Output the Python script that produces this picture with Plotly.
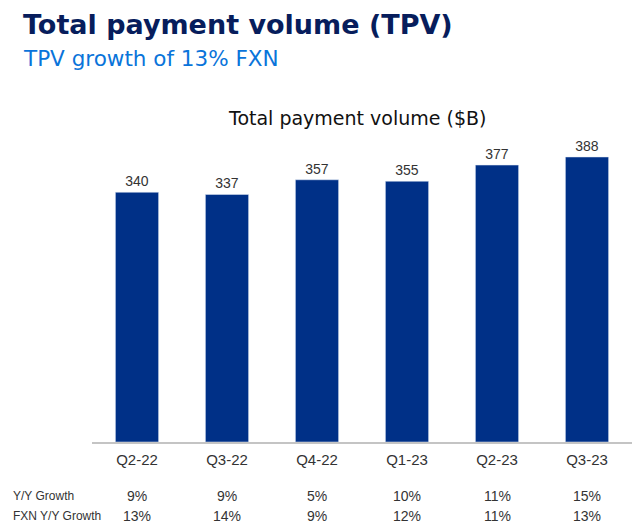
import plotly.graph_objects as go

quarters = ["Q2-22", "Q3-22", "Q4-22", "Q1-23", "Q2-23", "Q3-23"]
tpv = [340, 337, 357, 355, 377, 388]
yy_growth = ["9%", "9%", "5%", "10%", "11%", "15%"]
fxn_growth = ["13%", "14%", "9%", "12%", "11%", "13%"]

navy = "#003087"
arial = "Liberation Sans, Arial, sans-serif"
dejavu = "DejaVu Sans, sans-serif"

# page has an 8px body margin, so the figure is drawn 8px smaller
W, H = 632, 523
L, R, T, B = 84, 8, 100, 89
plot_w = W - L - R
plot_h = H - T - B


def px_x(x):
    return (x - L) / plot_w


def px_y(y):
    return (H - B - y) / plot_h


fig = go.Figure()
fig.add_trace(go.Bar(x=quarters, y=tpv, marker_color=navy, width=0.48,
                     text=[str(v) for v in tpv], textposition="outside",
                     textfont=dict(size=14, color="#333333", family=arial),
                     cliponaxis=False))

# growth table under the axis
for q, a, b in zip(quarters, yy_growth, fxn_growth):
    fig.add_annotation(x=q, y=px_y(488), xref="x", yref="paper", text=a, showarrow=False,
                       yanchor="middle", font=dict(size=14, color="#333333", family=arial))
    fig.add_annotation(x=q, y=px_y(508), xref="x", yref="paper", text=b, showarrow=False,
                       yanchor="middle", font=dict(size=14, color="#333333", family=arial))
fig.add_annotation(x=px_x(3), y=px_y(488), xref="paper", yref="paper", text="Y/Y Growth",
                   xanchor="left", yanchor="middle", showarrow=False,
                   font=dict(size=12, color="#333333", family=arial))
fig.add_annotation(x=px_x(3), y=px_y(508), xref="paper", yref="paper", text="FXN Y/Y Growth",
                   xanchor="left", yanchor="middle", showarrow=False,
                   font=dict(size=12, color="#333333", family=arial))

# titles
fig.add_annotation(x=px_x(13), y=px_y(16), xref="paper", yref="paper",
                   text="<b>Total payment volume (TPV)</b>", xanchor="left", yanchor="middle",
                   showarrow=False, font=dict(size=27, color="#071d5c", family=dejavu))
fig.add_annotation(x=px_x(13), y=px_y(50), xref="paper", yref="paper",
                   text="TPV growth of 13% FXN", xanchor="left", yanchor="middle",
                   showarrow=False, font=dict(size=21.5, color="#0a74da", family=dejavu))
fig.add_annotation(x=px_x(349), y=px_y(110), xref="paper", yref="paper",
                   text="Total payment volume ($B)", xanchor="center", yanchor="middle",
                   showarrow=False, font=dict(size=19, color="#111111", family=dejavu))

fig.update_layout(
    width=W, height=H,
    margin=dict(l=L, r=R, t=T, b=B),
    plot_bgcolor="white", paper_bgcolor="white",
    showlegend=False,
    xaxis=dict(showline=True, linecolor="#c4c4c4", linewidth=1.5, ticks="",
               ticklabelstandoff=3,
               tickfont=dict(size=15, color="#333333", family=arial)),
    yaxis=dict(range=[0, 454.7], visible=False, showgrid=False),
)

fig.write_html("out.html")
